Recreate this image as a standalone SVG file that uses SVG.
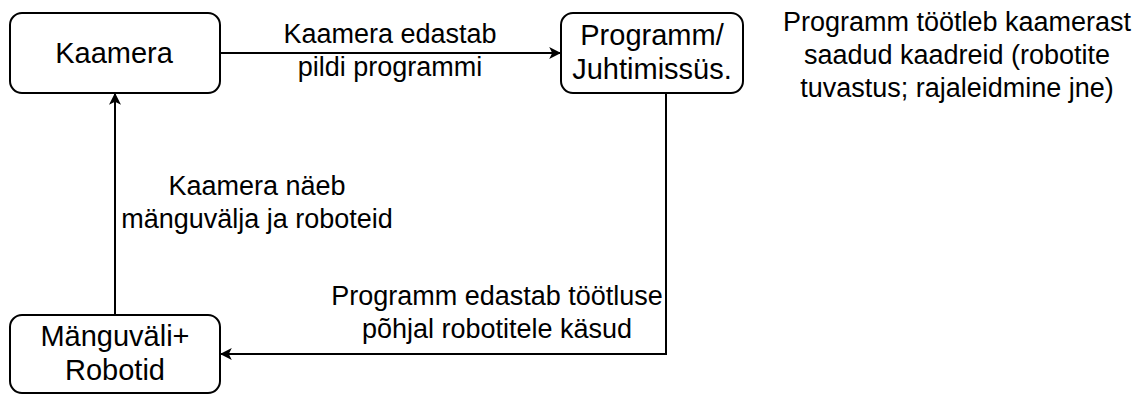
<svg xmlns="http://www.w3.org/2000/svg" width="1137" height="394" viewBox="0 0 1137 394">
<style>
.box{fill:#fff;stroke:#000;stroke-width:2}
.t{font-family:"Liberation Sans",Arial,sans-serif;font-size:27px;fill:#000;text-anchor:middle}
.b{font-size:29px}
.e{fill:none;stroke:#000;stroke-width:2}
</style>
<defs>
<marker id="ah" viewBox="0 0 10 10" refX="9" refY="5" markerWidth="12" markerHeight="12" markerUnits="userSpaceOnUse" orient="auto">
<path d="M0,0 L10,5 L0,10 L2.5,5 Z" fill="#000"/>
</marker>
</defs>
<rect width="1137" height="394" fill="#fff"/>
<g id="connectors">
<path class="e" d="M220,53 L560,53" marker-end="url(#ah)"/>
<path class="e" d="M666,93 L666,354 L221,354" marker-end="url(#ah)"/>
<path class="e" d="M115,315 L115,94" marker-end="url(#ah)"/>
<text class="t" x="390" y="43">Kaamera edastab</text>
<text class="t" x="390" y="76">pildi programmi</text>
<text class="t" x="257" y="195">Kaamera näeb</text>
<text class="t" x="257" y="228">mänguvälja ja roboteid</text>
<text class="t" x="497" y="305">Programm edastab töötluse</text>
<text class="t" x="497" y="338">põhjal robotitele käsud</text>
</g>
<g id="kaamera">
<rect class="box" x="10" y="13" width="210" height="80" rx="12"/>
<text class="t b" x="114" y="63">Kaamera</text>
</g>
<g id="programm">
<rect class="box" x="561" y="13" width="182" height="80" rx="12"/>
<text class="t b" x="652" y="45">Programm/</text>
<text class="t b" x="652" y="79">Juhtimissüs.</text>
</g>
<g id="manguvali">
<rect class="box" x="10" y="315" width="210" height="78" rx="12"/>
<text class="t b" x="115" y="346">Mänguväli+</text>
<text class="t b" x="115" y="380">Robotid</text>
</g>
<g id="note">
<text class="t" x="957" y="31">Programm töötleb kaamerast</text>
<text class="t" x="957" y="64">saadud kaadreid (robotite</text>
<text class="t" x="957" y="97">tuvastus; rajaleidmine jne)</text>
</g>
</svg>
